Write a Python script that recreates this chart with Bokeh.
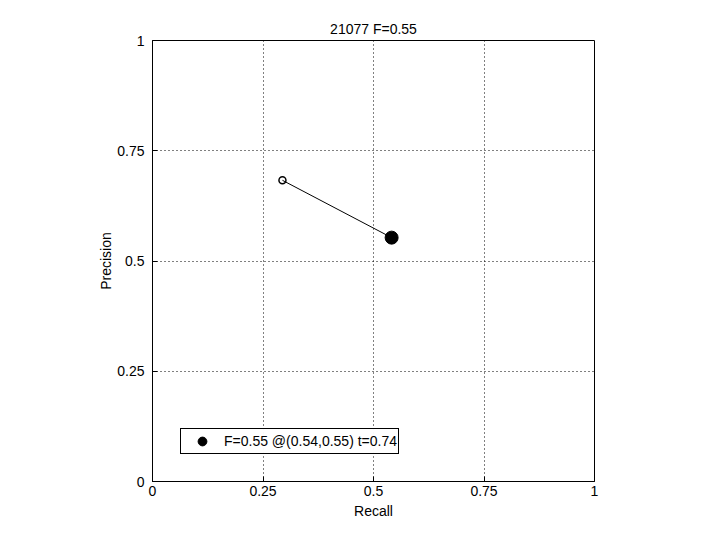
from bokeh.plotting import figure
from bokeh.models import Range1d, FixedTicker, Legend, LegendItem
from bokeh.embed import file_html
from bokeh.resources import INLINE

title_text = "21077 F=0.55"
curve_recall = [0.294, 0.541]
curve_precision = [0.683, 0.553]
best_recall = [0.541]
best_precision = [0.553]
legend_label = "F=0.55 @(0.54,0.55) t=0.74"
ticks = [0, 0.25, 0.5, 0.75, 1]
tick_labels = {0: "0", 0.25: "0.25", 0.5: "0.5", 0.75: "0.75", 1: "1"}

FONT = "Liberation Sans"
FS = "14px"

p = figure(width=704, height=524, output_backend="svg", toolbar_location=None,
           x_range=Range1d(0, 1), y_range=Range1d(0, 1),
           min_border_left=152, min_border_right=110, min_border_top=40, min_border_bottom=43)
p.title.text = title_text
p.title.align = "center"
p.title.text_font = FONT
p.title.text_font_size = FS
p.title.text_font_style = "normal"
p.title.text_color = "black"
p.title.offset = 0
p.title.standoff = 8

p.background_fill_color = "white"
p.border_fill_color = "white"
p.outline_line_color = "black"
p.outline_line_width = 1
p.outline_line_alpha = 1

for ax, lab in ((p.xaxis[0], "Recall"), (p.yaxis[0], "Precision")):
    ax.ticker = FixedTicker(ticks=ticks)
    ax.major_label_overrides = tick_labels
    ax.axis_label = lab
    ax.axis_label_text_font = FONT
    ax.axis_label_text_font_size = FS
    ax.axis_label_text_font_style = "normal"
    ax.major_label_text_font = FONT
    ax.major_label_text_font_size = FS
    ax.major_tick_in = 5
    ax.major_tick_out = 0
    ax.minor_tick_line_color = None
    ax.axis_line_color = "black"
    ax.major_tick_line_color = "black"
    ax.major_label_text_color = "black"
    ax.axis_label_text_color = "black"

p.xaxis[0].major_label_standoff = 4
p.xaxis[0].axis_label_standoff = 4
p.yaxis[0].major_label_standoff = 8
p.yaxis[0].axis_label_standoff = 0
p.yaxis[0].major_label_orientation = "horizontal"

p.grid.ticker = FixedTicker(ticks=ticks)
p.grid.grid_line_color = "black"
p.grid.grid_line_dash = "1 3"
p.grid.grid_line_width = 1

p.line(curve_recall, curve_precision, line_color="black", line_width=1)
p.scatter(curve_recall[:1], curve_precision[:1], size=7, marker="circle",
          fill_color=None, line_color="black", line_width=1.5)
best = p.scatter(best_recall, best_precision, size=13, marker="circle",
                 fill_color="black", line_color="black")

legend = Legend(items=[LegendItem(label=legend_label, renderers=[best])],
                location=(28, 27))
legend.label_text_font = FONT
legend.label_text_font_size = FS
legend.label_text_color = "black"
legend.border_line_color = "black"
legend.border_line_width = 1
legend.border_line_alpha = 1
legend.padding = 1
legend.margin = 0
legend.spacing = 0
legend.glyph_width = 40
legend.glyph_height = 22
legend.label_standoff = 2
legend.label_height = 22
p.add_layout(legend, "center")

open("out.html", "w").write(file_html(p, INLINE))
